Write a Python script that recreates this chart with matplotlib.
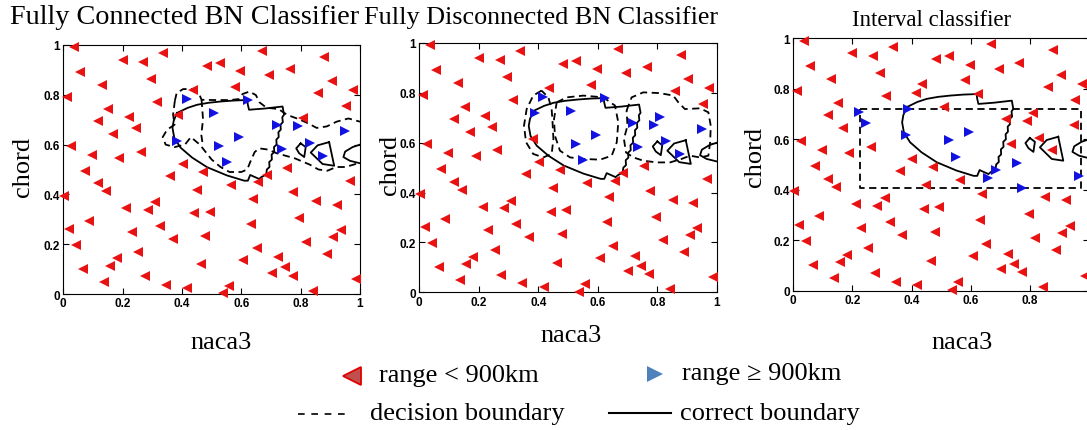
import matplotlib.pyplot as plt
from matplotlib.lines import Line2D

W, H = 1087, 431

# sample points (same 100 points in every panel), naca3 / chord
xs = [0.036, 0.200, 0.270, 0.337, 0.056, 0.294, 0.129, 0.011, 0.315, 0.483,
      0.528, 0.669, 0.596, 0.764, 0.694, 0.879, 0.904, 0.860, 0.975, 0.953,
      0.579, 0.436, 0.388, 0.118, 0.152, 0.222, 0.245, 0.169, 0.026, 0.096,
      0.189, 0.262, 0.073, 0.118, 0.143, 0.003, 0.213, 0.284, 0.309, 0.088,
      0.020, 0.043, 0.230, 0.326, 0.369, 0.253, 0.182, 0.157, 0.067, 0.138,
      0.275, 0.346, 0.418, 0.537, 0.557, 0.464, 0.607, 0.652, 0.702, 0.725,
      0.747, 0.773, 0.843, 0.890, 0.818, 0.910, 0.935, 0.987, 0.796, 0.852,
      0.921, 0.775, 0.966, 0.755, 0.685, 0.657, 0.638, 0.631, 0.565, 0.494,
      0.442, 0.479, 0.449, 0.472, 0.402, 0.360, 0.809,
      0.416, 0.509, 0.382, 0.526, 0.593, 0.551, 0.624, 0.719, 0.790, 0.736,
      0.831, 0.876, 0.949]
ys = [0.990, 0.940, 0.930, 0.967, 0.890, 0.863, 0.840, 0.790, 0.770, 0.917,
      0.928, 0.977, 0.894, 0.904, 0.880, 0.953, 0.854, 0.807, 0.820, 0.754,
      0.833, 0.819, 0.720, 0.696, 0.743, 0.709, 0.665, 0.643, 0.593, 0.558,
      0.545, 0.569, 0.493, 0.444, 0.412, 0.395, 0.344, 0.337, 0.368, 0.295,
      0.261, 0.197, 0.250, 0.272, 0.221, 0.170, 0.143, 0.114, 0.100, 0.050,
      0.071, 0.036, 0.023, 0.003, 0.033, 0.119, 0.138, 0.186, 0.084, 0.147,
      0.107, 0.074, 0.013, 0.160, 0.210, 0.228, 0.257, 0.060, 0.304, 0.372,
      0.359, 0.408, 0.455, 0.505, 0.479, 0.448, 0.382, 0.281, 0.438, 0.331,
      0.324, 0.232, 0.418, 0.489, 0.522, 0.475, 0.705,
      0.783, 0.727, 0.616, 0.596, 0.629, 0.529, 0.779, 0.680, 0.673, 0.582,
      0.606, 0.556, 0.656]

# indices of points drawn as "range >= 900km" in each panel
blue_connected = [87, 88, 89, 90, 91, 92, 93, 94, 95, 96, 97, 98, 99]
blue_disconnected = [22, 86, 87, 88, 90, 91, 92, 93, 94, 95, 96, 97, 98, 99]
blue_interval = [22, 25, 26, 71, 72, 73, 74, 75, 89, 90, 91, 92]

titles = ['Fully Connected BN Classifier', 'Fully Disconnected BN Classifier',
          'Interval classifier']

# correct boundary (same in all panels)
correct_main_x = [0.383, 0.420, 0.451, 0.490, 0.530, 0.575, 0.620, 0.622, 0.626, 0.680,
                  0.739, 0.744, 0.738, 0.740, 0.732, 0.733, 0.725, 0.726, 0.718, 0.719,
                  0.710, 0.711, 0.702, 0.703, 0.694, 0.695, 0.686, 0.684, 0.668, 0.660,
                  0.630, 0.622, 0.610, 0.552, 0.485, 0.434, 0.395, 0.374, 0.368, 0.372,
                  0.383]
correct_main_y = [0.727, 0.748, 0.760, 0.768, 0.773, 0.777, 0.779, 0.760, 0.740, 0.745,
                  0.753, 0.720, 0.710, 0.690, 0.680, 0.660, 0.650, 0.630, 0.620, 0.600,
                  0.590, 0.570, 0.560, 0.540, 0.530, 0.510, 0.500, 0.480, 0.470, 0.462,
                  0.478, 0.455, 0.455, 0.476, 0.509, 0.548, 0.588, 0.627, 0.667, 0.695,
                  0.727]
correct_s1_x = [0.800, 0.817, 0.812, 0.795, 0.785, 0.800]
correct_s1_y = [0.605, 0.590, 0.550, 0.565, 0.585, 0.605]
correct_s2_x = [0.896, 0.913, 0.874, 0.834, 0.857, 0.896]
correct_s2_y = [0.610, 0.515, 0.522, 0.568, 0.597, 0.610]
correct_s3_x = [1.000, 0.975, 0.950, 0.944, 0.966, 1.000]
correct_s3_y = [0.600, 0.590, 0.572, 0.550, 0.535, 0.525]

# decision boundaries
# fully connected
fc_top_x = [0.376, 0.382, 0.404, 0.438, 0.458, 0.466, 0.506, 0.562, 0.593, 0.604,
            0.627, 0.649, 0.661, 0.685, 0.725, 0.755, 0.792, 0.826, 0.854, 0.888,
            0.921, 0.961, 1.000]
fc_top_y = [0.776, 0.807, 0.823, 0.823, 0.803, 0.780, 0.779, 0.779, 0.783, 0.803,
            0.813, 0.799, 0.770, 0.748, 0.743, 0.719, 0.703, 0.685, 0.667, 0.673,
            0.692, 0.705, 0.692]
fc_low_x = [0.376, 0.370, 0.375, 0.350, 0.335, 0.345, 0.375, 0.410, 0.430, 0.460,
            0.480, 0.500, 0.530, 0.560, 0.600, 0.620, 0.630, 0.645, 0.660, 0.690,
            0.720, 0.750, 0.780, 0.800, 0.830, 0.860, 0.890, 0.920, 0.950, 0.980,
            1.000]
fc_low_y = [0.776, 0.720, 0.680, 0.660, 0.630, 0.600, 0.590, 0.600, 0.630, 0.600,
            0.570, 0.540, 0.510, 0.490, 0.490, 0.500, 0.530, 0.570, 0.585, 0.580,
            0.565, 0.555, 0.545, 0.535, 0.520, 0.500, 0.495, 0.510, 0.510, 0.520,
            0.530]
fc_in_x = [0.466, 0.471, 0.465, 0.470]
fc_in_y = [0.780, 0.700, 0.640, 0.600]

# fully disconnected
fd_l_x = [0.411, 0.383, 0.361, 0.352, 0.359, 0.383, 0.417, 0.445, 0.451, 0.448, 0.445, 0.434, 0.411]
fd_l_y = [0.809, 0.789, 0.735, 0.668, 0.602, 0.555, 0.541, 0.555, 0.615, 0.682, 0.735, 0.782, 0.809]
fd_c_x = [0.462, 0.496, 0.552, 0.619, 0.658, 0.669, 0.664, 0.647, 0.608, 0.552, 0.507, 0.473,
          0.456, 0.453, 0.462]
fd_c_y = [0.762, 0.782, 0.789, 0.782, 0.749, 0.682, 0.602, 0.548, 0.532, 0.535, 0.541, 0.568,
          0.628, 0.695, 0.762]
fd_r_x = [0.697, 0.714, 0.753, 0.809, 0.854, 0.871, 0.893, 0.944, 0.972, 0.980, 0.978, 0.972,
          0.944, 0.910, 0.882, 0.843, 0.798, 0.753, 0.720, 0.695, 0.688, 0.700, 0.697]
fd_r_y = [0.729, 0.782, 0.802, 0.799, 0.789, 0.762, 0.735, 0.738, 0.722, 0.668, 0.602, 0.548,
          0.541, 0.548, 0.535, 0.521, 0.521, 0.528, 0.541, 0.561, 0.615, 0.668, 0.729]

# interval classifier box
iv_x = [0.225, 0.972, 0.972, 0.225, 0.225]
iv_y = [0.720, 0.720, 0.408, 0.408, 0.720]

decision = [
    [(fc_top_x, fc_top_y), (fc_low_x, fc_low_y), (fc_in_x, fc_in_y)],
    [(fd_l_x, fd_l_y), (fd_c_x, fd_c_y), (fd_r_x, fd_r_y)],
    [(iv_x, iv_y)],
]
blues = [blue_connected, blue_disconnected, blue_interval]

# axes boxes in pixels: left, right, top, bottom
boxes = [(63.3, 360.0, 46.0, 295.0),
         (419.3, 716.7, 44.0, 293.3),
         (793.3, 1089.0, 39.3, 291.7)]
title_pos = [(185, 18), (541, 18), (931, 20)]
title_size = [20.3, 18.8, 16.4]
ylab_pos = [(23, 167), (390, 165), (755, 157)]
xlab_pos = [(221, 343), (571, 336), (962, 343)]

serif = ['Liberation Serif', 'DejaVu Serif']
tickfont = ['Liberation Sans Narrow', 'Liberation Sans', 'DejaVu Sans']

fig = plt.figure(figsize=(W / 100, H / 100), dpi=100)

for k in range(3):
    l, r, t, b = boxes[k]
    ax = fig.add_axes([l / W, 1 - b / H, (r - l) / W, (b - t) / H])
    bl = blues[k]
    rx = [xs[i] for i in range(len(xs)) if i not in bl]
    ry = [ys[i] for i in range(len(xs)) if i not in bl]
    bx = [xs[i] for i in bl]
    by = [ys[i] for i in bl]
    ax.plot(rx, ry, '<', color='#e81212', markersize=7, markeredgewidth=0, clip_on=False, zorder=3)
    ax.plot(bx, by, '>', color='#1212e0', markersize=7, markeredgewidth=0, clip_on=False, zorder=3)

    for cx, cy in [(correct_main_x, correct_main_y), (correct_s1_x, correct_s1_y),
                   (correct_s2_x, correct_s2_y), (correct_s3_x, correct_s3_y)]:
        ax.plot(cx, cy, '-', color='black', lw=1.3, zorder=2)
    for dx, dy in decision[k]:
        ax.plot(dx, dy, color='black', lw=1.3, dashes=(4, 2.5), zorder=2)

    ax.set_xlim(0, 1)
    ax.set_ylim(0, 1)
    ax.set_xticks([0, 0.2, 0.4, 0.6, 0.8, 1])
    ax.set_yticks([0, 0.2, 0.4, 0.6, 0.8, 1])
    xl = ['0', '0.2', '0.4', '0.6', '0.8', '1']
    if k == 2:
        xl[-1] = ''  # falls outside the picture
    ax.set_xticklabels(xl)
    ax.set_yticklabels(['0', '0.2', '0.4', '0.6', '0.8', '1'])
    ax.tick_params(direction='in', top=True, right=True, length=4, width=0.8, pad=2.5)
    for lab in ax.get_xticklabels() + ax.get_yticklabels():
        lab.set_family(tickfont)
        lab.set_fontsize(8.5)
        lab.set_fontweight('bold')
    for s in ax.spines.values():
        s.set_linewidth(0.8)

    fig.text(title_pos[k][0] / W, 1 - title_pos[k][1] / H, titles[k], family=serif,
             fontsize=title_size[k], ha='center', va='center')
    fig.text(ylab_pos[k][0] / W, 1 - ylab_pos[k][1] / H, 'chord', family=serif,
             fontsize=19, ha='center', va='center', rotation=90)
    fig.text(xlab_pos[k][0] / W, 1 - xlab_pos[k][1] / H, 'naca3', family=serif,
             fontsize=19, ha='center', va='center')

# legend
fig.add_artist(Line2D([352 / W], [1 - 377 / H], marker='<', markersize=13, color='#c0504d',
                      markeredgecolor='#e00000', markeredgewidth=1.3, transform=fig.transFigure))
fig.add_artist(Line2D([655 / W], [1 - 375 / H], marker='>', markersize=12, color='#4f81bd',
                      markeredgewidth=0, transform=fig.transFigure))
fig.add_artist(Line2D([298 / W, 348 / W], [1 - 415 / H] * 2, color='black', lw=1.2,
                      dashes=(4, 4), transform=fig.transFigure))
fig.add_artist(Line2D([609 / W, 671 / W], [1 - 414 / H] * 2, color='black', lw=1.5,
                      transform=fig.transFigure))
fig.text(379 / W, 1 - 376 / H, 'range < 900km', family=serif, fontsize=19, va='center')
fig.text(682 / W, 1 - 374 / H, 'range \u2265 900km', family=serif, fontsize=19, va='center')
fig.text(370 / W, 1 - 414 / H, 'decision boundary', family=serif, fontsize=19, va='center')
fig.text(680 / W, 1 - 414 / H, 'correct boundary', family=serif, fontsize=19, va='center')

fig.savefig('out.png', dpi=100)
